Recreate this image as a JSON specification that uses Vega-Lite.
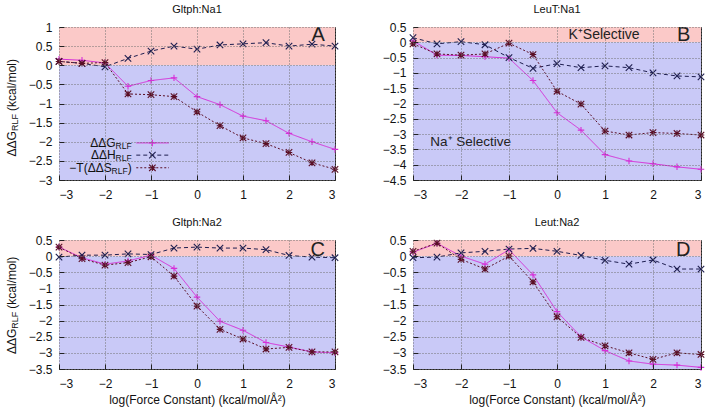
{
"$schema": "https://vega.github.io/schema/vega-lite/v6.json",
"padding": {"left": 5, "top": 3, "right": 5, "bottom": 3},
"spacing": 15,
"datasets": {
"d": [
{"p":"A","s":"G","x":-3,"y":0.16},{"p":"A","s":"G","x":-2.5,"y":0.13},{"p":"A","s":"G","x":-2,"y":0.06},{"p":"A","s":"G","x":-1.5,"y":-0.55},{"p":"A","s":"G","x":-1,"y":-0.4},{"p":"A","s":"G","x":-0.5,"y":-0.33},{"p":"A","s":"G","x":0,"y":-0.82},{"p":"A","s":"G","x":0.5,"y":-1.03},{"p":"A","s":"G","x":1,"y":-1.33},{"p":"A","s":"G","x":1.5,"y":-1.45},{"p":"A","s":"G","x":2,"y":-1.78},{"p":"A","s":"G","x":2.5,"y":-2.0},{"p":"A","s":"G","x":3,"y":-2.2},
{"p":"A","s":"H","x":-3,"y":0.1},{"p":"A","s":"H","x":-2.5,"y":0.05},{"p":"A","s":"H","x":-2,"y":-0.04},{"p":"A","s":"H","x":-1.5,"y":0.18},{"p":"A","s":"H","x":-1,"y":0.37},{"p":"A","s":"H","x":-0.5,"y":0.5},{"p":"A","s":"H","x":0,"y":0.42},{"p":"A","s":"H","x":0.5,"y":0.53},{"p":"A","s":"H","x":1,"y":0.56},{"p":"A","s":"H","x":1.5,"y":0.59},{"p":"A","s":"H","x":2,"y":0.5},{"p":"A","s":"H","x":2.5,"y":0.55},{"p":"A","s":"H","x":3,"y":0.5},
{"p":"A","s":"S","x":-3,"y":0.1},{"p":"A","s":"S","x":-2.5,"y":0.05},{"p":"A","s":"S","x":-2,"y":0.07},{"p":"A","s":"S","x":-1.5,"y":-0.75},{"p":"A","s":"S","x":-1,"y":-0.77},{"p":"A","s":"S","x":-0.5,"y":-0.82},{"p":"A","s":"S","x":0,"y":-1.22},{"p":"A","s":"S","x":0.5,"y":-1.58},{"p":"A","s":"S","x":1,"y":-1.9},{"p":"A","s":"S","x":1.5,"y":-2.05},{"p":"A","s":"S","x":2,"y":-2.28},{"p":"A","s":"S","x":2.5,"y":-2.55},{"p":"A","s":"S","x":3,"y":-2.72},
{"p":"B","s":"G","x":-3,"y":0.05},{"p":"B","s":"G","x":-2.5,"y":-0.42},{"p":"B","s":"G","x":-2,"y":-0.43},{"p":"B","s":"G","x":-1.5,"y":-0.47},{"p":"B","s":"G","x":-1,"y":-0.52},{"p":"B","s":"G","x":-0.5,"y":-1.25},{"p":"B","s":"G","x":0,"y":-2.3},{"p":"B","s":"G","x":0.5,"y":-2.87},{"p":"B","s":"G","x":1,"y":-3.67},{"p":"B","s":"G","x":1.5,"y":-3.88},{"p":"B","s":"G","x":2,"y":-3.97},{"p":"B","s":"G","x":2.5,"y":-4.07},{"p":"B","s":"G","x":3,"y":-4.15},
{"p":"B","s":"H","x":-3,"y":0.15},{"p":"B","s":"H","x":-2.5,"y":-0.05},{"p":"B","s":"H","x":-2,"y":0.02},{"p":"B","s":"H","x":-1.5,"y":-0.08},{"p":"B","s":"H","x":-1,"y":-0.5},{"p":"B","s":"H","x":-0.5,"y":-0.85},{"p":"B","s":"H","x":0,"y":-0.7},{"p":"B","s":"H","x":0.5,"y":-0.83},{"p":"B","s":"H","x":1,"y":-0.77},{"p":"B","s":"H","x":1.5,"y":-0.83},{"p":"B","s":"H","x":2,"y":-1.0},{"p":"B","s":"H","x":2.5,"y":-1.1},{"p":"B","s":"H","x":3,"y":-1.13},
{"p":"B","s":"S","x":-3,"y":-0.05},{"p":"B","s":"S","x":-2.5,"y":-0.38},{"p":"B","s":"S","x":-2,"y":-0.42},{"p":"B","s":"S","x":-1.5,"y":-0.38},{"p":"B","s":"S","x":-1,"y":-0.03},{"p":"B","s":"S","x":-0.5,"y":-0.4},{"p":"B","s":"S","x":0,"y":-1.6},{"p":"B","s":"S","x":0.5,"y":-2.02},{"p":"B","s":"S","x":1,"y":-2.9},{"p":"B","s":"S","x":1.5,"y":-3.03},{"p":"B","s":"S","x":2,"y":-2.95},{"p":"B","s":"S","x":2.5,"y":-2.98},{"p":"B","s":"S","x":3,"y":-3.03},
{"p":"C","s":"G","x":-3,"y":0.28},{"p":"C","s":"G","x":-2.5,"y":-0.05},{"p":"C","s":"G","x":-2,"y":-0.25},{"p":"C","s":"G","x":-1.5,"y":-0.15},{"p":"C","s":"G","x":-1,"y":0.03},{"p":"C","s":"G","x":-0.5,"y":-0.38},{"p":"C","s":"G","x":0,"y":-1.27},{"p":"C","s":"G","x":0.5,"y":-2.02},{"p":"C","s":"G","x":1,"y":-2.3},{"p":"C","s":"G","x":1.5,"y":-2.68},{"p":"C","s":"G","x":2,"y":-2.82},{"p":"C","s":"G","x":2.5,"y":-2.97},{"p":"C","s":"G","x":3,"y":-3.0},
{"p":"C","s":"H","x":-3,"y":-0.03},{"p":"C","s":"H","x":-2.5,"y":0.03},{"p":"C","s":"H","x":-2,"y":0.03},{"p":"C","s":"H","x":-1.5,"y":0.07},{"p":"C","s":"H","x":-1,"y":0.05},{"p":"C","s":"H","x":-0.5,"y":0.25},{"p":"C","s":"H","x":0,"y":0.28},{"p":"C","s":"H","x":0.5,"y":0.25},{"p":"C","s":"H","x":1,"y":0.25},{"p":"C","s":"H","x":1.5,"y":0.2},{"p":"C","s":"H","x":2,"y":0.02},{"p":"C","s":"H","x":2.5,"y":-0.03},{"p":"C","s":"H","x":3,"y":-0.05},
{"p":"C","s":"S","x":-3,"y":0.28},{"p":"C","s":"S","x":-2.5,"y":-0.08},{"p":"C","s":"S","x":-2,"y":-0.28},{"p":"C","s":"S","x":-1.5,"y":-0.2},{"p":"C","s":"S","x":-1,"y":-0.02},{"p":"C","s":"S","x":-0.5,"y":-0.62},{"p":"C","s":"S","x":0,"y":-1.55},{"p":"C","s":"S","x":0.5,"y":-2.27},{"p":"C","s":"S","x":1,"y":-2.57},{"p":"C","s":"S","x":1.5,"y":-2.88},{"p":"C","s":"S","x":2,"y":-2.83},{"p":"C","s":"S","x":2.5,"y":-2.97},{"p":"C","s":"S","x":3,"y":-2.97},
{"p":"D","s":"G","x":-3,"y":0.12},{"p":"D","s":"G","x":-2.5,"y":0.4},{"p":"D","s":"G","x":-2,"y":0.0},{"p":"D","s":"G","x":-1.5,"y":-0.25},{"p":"D","s":"G","x":-1,"y":0.2},{"p":"D","s":"G","x":-0.5,"y":-0.58},{"p":"D","s":"G","x":0,"y":-1.72},{"p":"D","s":"G","x":0.5,"y":-2.5},{"p":"D","s":"G","x":1,"y":-2.93},{"p":"D","s":"G","x":1.5,"y":-3.25},{"p":"D","s":"G","x":2,"y":-3.35},{"p":"D","s":"G","x":2.5,"y":-3.38},{"p":"D","s":"G","x":3,"y":-3.45},
{"p":"D","s":"H","x":-3,"y":-0.05},{"p":"D","s":"H","x":-2.5,"y":-0.03},{"p":"D","s":"H","x":-2,"y":0.1},{"p":"D","s":"H","x":-1.5,"y":0.15},{"p":"D","s":"H","x":-1,"y":0.22},{"p":"D","s":"H","x":-0.5,"y":0.24},{"p":"D","s":"H","x":0,"y":0.15},{"p":"D","s":"H","x":0.5,"y":0.02},{"p":"D","s":"H","x":1,"y":-0.13},{"p":"D","s":"H","x":1.5,"y":-0.25},{"p":"D","s":"H","x":2,"y":-0.12},{"p":"D","s":"H","x":2.5,"y":-0.4},{"p":"D","s":"H","x":3,"y":-0.4},
{"p":"D","s":"S","x":-3,"y":0.15},{"p":"D","s":"S","x":-2.5,"y":0.4},{"p":"D","s":"S","x":-2,"y":-0.1},{"p":"D","s":"S","x":-1.5,"y":-0.4},{"p":"D","s":"S","x":-1,"y":0.0},{"p":"D","s":"S","x":-0.5,"y":-0.8},{"p":"D","s":"S","x":0,"y":-1.88},{"p":"D","s":"S","x":0.5,"y":-2.52},{"p":"D","s":"S","x":1,"y":-2.78},{"p":"D","s":"S","x":1.5,"y":-3.0},{"p":"D","s":"S","x":2,"y":-3.2},{"p":"D","s":"S","x":2.5,"y":-3.0},{"p":"D","s":"S","x":3,"y":-3.05}
]
},
"vconcat": [
{"hconcat": [
{"title": "Gltph:Na1", "width": 276, "height": 153,
 "resolve": {"axis": {"x": "independent", "y": "independent"}},
 "layer": [
  {"data":{"values":[{}]},"mark":{"type":"rect","fill":"#fbc9c8"},
   "encoding":{"x":{"datum":-3,"type":"quantitative","scale":{"domain":[-3,3],"nice":false,"zero":false},"axis":{"values":[-3,-2,-1,0,1,2,3],"format":"d","title":null,"zindex":1}},"x2":{"datum":3},
   "y":{"datum":0,"type":"quantitative","scale":{"domain":[-3,1],"nice":false,"zero":false},"axis":{"values":[-3,-2.5,-2,-1.5,-1,-0.5,0,0.5,1],"format":"~g","title":null,"zindex":1}},"y2":{"datum":1}}},
  {"data":{"values":[{}]},"mark":{"type":"rect","fill":"#c9c9f7"},
   "encoding":{"x":{"datum":-3,"type":"quantitative","axis":null},"x2":{"datum":3},
   "y":{"datum":-3,"type":"quantitative","axis":null},"y2":{"datum":0}}},
  {"data":{"name":"d"},"transform":[{"filter":"datum.p=='A'"}],"mark":{"type":"line","strokeWidth":1},
   "encoding":{"x":{"field":"x","type":"quantitative","axis":null},
   "y":{"field":"y","type":"quantitative","axis":null},
   "stroke":{"field":"s","type":"nominal","scale":{"domain":["G","H","S"],"range":["#d62fd8","#1e1e50","#5a0f26"]},"legend":null},
   "strokeDash":{"field":"s","type":"nominal","scale":{"domain":["G","H","S"],"range":[[1,0],[4,3],[2,2]]},"legend":null}}},
  {"data":{"name":"d"},"transform":[{"filter":"datum.p=='A'"}],"mark":{"type":"point","filled":false,"size":42,"strokeWidth":1.1,"opacity":1},
   "encoding":{"x":{"field":"x","type":"quantitative","axis":null},
   "y":{"field":"y","type":"quantitative","axis":null},
   "stroke":{"field":"s","type":"nominal","scale":{"domain":["G","H","S"],"range":["#d62fd8","#1e1e50","#5a0f26"]},"legend":null},
   "shape":{"field":"s","type":"nominal","scale":{"domain":["G","H","S"],"range":["M-1,0L1,0M0,-1L0,1","M-1,-1L1,1M-1,1L1,-1","M-1,-1L1,1M-1,1L1,-1M-1,0L1,0M0,-1L0,1"]},"legend":null}}},
  {"data":{"values":[{}]},"mark":{"type":"text","text":"A","fontSize":20,"align":"right","baseline":"middle","color":"#222"},
   "encoding":{"x":{"datum":2.78,"type":"quantitative","axis":null},"y":{"datum":0.79,"type":"quantitative","axis":null}}},
  {"data":{"values":[{}]},"mark":{"type":"text","text":"ΔΔG","fontSize":12,"angle":270,"align":"right","baseline":"middle","color":"#111"},
   "encoding":{"x":{"datum":-4.02,"type":"quantitative","axis":null},"y":{"datum":-1.72,"type":"quantitative","axis":null}}},
  {"data":{"values":[{}]},"mark":{"type":"text","text":"RLF","fontSize":9,"angle":270,"align":"left","baseline":"middle","dy":3,"color":"#111"},
   "encoding":{"x":{"datum":-4.02,"type":"quantitative","axis":null},"y":{"datum":-1.72,"type":"quantitative","axis":null}}},
  {"data":{"values":[{}]},"mark":{"type":"text","text":"(kcal/mol)","fontSize":12,"angle":270,"align":"left","baseline":"middle","dx":20,"color":"#111"},
   "encoding":{"x":{"datum":-4.02,"type":"quantitative","axis":null},"y":{"datum":-1.72,"type":"quantitative","axis":null}}},
  {"data":{"values":[{}]},"mark":{"type":"rule","stroke":"#d62fd8","strokeWidth":1},
   "encoding":{"x":{"datum":-1.32,"type":"quantitative","axis":null},"x2":{"datum":-0.61},"y":{"datum":-2.03,"type":"quantitative","axis":null}}},
  {"data":{"values":[{}]},"mark":{"type":"rule","stroke":"#1e1e50","strokeWidth":1,"strokeDash":[4,3]},
   "encoding":{"x":{"datum":-1.32,"type":"quantitative","axis":null},"x2":{"datum":-0.61},"y":{"datum":-2.35,"type":"quantitative","axis":null}}},
  {"data":{"values":[{}]},"mark":{"type":"rule","stroke":"#5a0f26","strokeWidth":1,"strokeDash":[2,2]},
   "encoding":{"x":{"datum":-1.32,"type":"quantitative","axis":null},"x2":{"datum":-0.61},"y":{"datum":-2.68,"type":"quantitative","axis":null}}},
  {"data":{"values":[{}]},"mark":{"type":"point","shape":"M-1,0L1,0M0,-1L0,1","stroke":"#d62fd8","filled":false,"size":42,"strokeWidth":1.1,"opacity":1},
   "encoding":{"x":{"datum":-0.97,"type":"quantitative","axis":null},"y":{"datum":-2.03,"type":"quantitative","axis":null}}},
  {"data":{"values":[{}]},"mark":{"type":"point","shape":"M-1,-1L1,1M-1,1L1,-1","stroke":"#1e1e50","filled":false,"size":42,"strokeWidth":1.1,"opacity":1},
   "encoding":{"x":{"datum":-0.97,"type":"quantitative","axis":null},"y":{"datum":-2.35,"type":"quantitative","axis":null}}},
  {"data":{"values":[{}]},"mark":{"type":"point","shape":"M-1,-1L1,1M-1,1L1,-1M-1,0L1,0M0,-1L0,1","stroke":"#5a0f26","filled":false,"size":42,"strokeWidth":1.1,"opacity":1},
   "encoding":{"x":{"datum":-0.97,"type":"quantitative","axis":null},"y":{"datum":-2.68,"type":"quantitative","axis":null}}},
  {"data":{"values":[{}]},"mark":{"type":"text","text":"ΔΔG","fontSize":12,"align":"right","baseline":"middle","dx":-16,"color":"#111"},
   "encoding":{"x":{"datum":-1.42,"type":"quantitative","axis":null},"y":{"datum":-2.03,"type":"quantitative","axis":null}}},
  {"data":{"values":[{}]},"mark":{"type":"text","text":"RLF","fontSize":8.5,"align":"right","baseline":"middle","dy":3,"color":"#111"},
   "encoding":{"x":{"datum":-1.42,"type":"quantitative","axis":null},"y":{"datum":-2.03,"type":"quantitative","axis":null}}},
  {"data":{"values":[{}]},"mark":{"type":"text","text":"ΔΔH","fontSize":12,"align":"right","baseline":"middle","dx":-16,"color":"#111"},
   "encoding":{"x":{"datum":-1.42,"type":"quantitative","axis":null},"y":{"datum":-2.35,"type":"quantitative","axis":null}}},
  {"data":{"values":[{}]},"mark":{"type":"text","text":"RLF","fontSize":8.5,"align":"right","baseline":"middle","dy":3,"color":"#111"},
   "encoding":{"x":{"datum":-1.42,"type":"quantitative","axis":null},"y":{"datum":-2.35,"type":"quantitative","axis":null}}},
  {"data":{"values":[{}]},"mark":{"type":"text","text":"−T(ΔΔS","fontSize":12,"align":"right","baseline":"middle","dx":-20,"color":"#111"},
   "encoding":{"x":{"datum":-1.42,"type":"quantitative","axis":null},"y":{"datum":-2.68,"type":"quantitative","axis":null}}},
  {"data":{"values":[{}]},"mark":{"type":"text","text":"RLF","fontSize":8.5,"align":"right","baseline":"middle","dy":3,"dx":-4,"color":"#111"},
   "encoding":{"x":{"datum":-1.42,"type":"quantitative","axis":null},"y":{"datum":-2.68,"type":"quantitative","axis":null}}},
  {"data":{"values":[{}]},"mark":{"type":"text","text":")","fontSize":12,"align":"right","baseline":"middle","color":"#111"},
   "encoding":{"x":{"datum":-1.42,"type":"quantitative","axis":null},"y":{"datum":-2.68,"type":"quantitative","axis":null}}}
 ]},
{"title": "LeuT:Na1", "width": 288, "height": 153,
 "resolve": {"axis": {"x": "independent", "y": "independent"}},
 "layer": [
  {"data":{"values":[{}]},"mark":{"type":"rect","fill":"#fbc9c8"},
   "encoding":{"x":{"datum":-3,"type":"quantitative","scale":{"domain":[-3,3],"nice":false,"zero":false},"axis":{"values":[-3,-2,-1,0,1,2,3],"format":"d","title":null,"zindex":1}},"x2":{"datum":3},
   "y":{"datum":0,"type":"quantitative","scale":{"domain":[-4.5,0.5],"nice":false,"zero":false},"axis":{"values":[-4.5,-4,-3.5,-3,-2.5,-2,-1.5,-1,-0.5,0,0.5],"format":"~g","title":null,"zindex":1}},"y2":{"datum":0.5}}},
  {"data":{"values":[{}]},"mark":{"type":"rect","fill":"#c9c9f7"},
   "encoding":{"x":{"datum":-3,"type":"quantitative","axis":null},"x2":{"datum":3},
   "y":{"datum":-4.5,"type":"quantitative","axis":null},"y2":{"datum":0}}},
  {"data":{"name":"d"},"transform":[{"filter":"datum.p=='B'"}],"mark":{"type":"line","strokeWidth":1},
   "encoding":{"x":{"field":"x","type":"quantitative","axis":null},
   "y":{"field":"y","type":"quantitative","axis":null},
   "stroke":{"field":"s","type":"nominal","scale":{"domain":["G","H","S"],"range":["#d62fd8","#1e1e50","#5a0f26"]},"legend":null},
   "strokeDash":{"field":"s","type":"nominal","scale":{"domain":["G","H","S"],"range":[[1,0],[4,3],[2,2]]},"legend":null}}},
  {"data":{"name":"d"},"transform":[{"filter":"datum.p=='B'"}],"mark":{"type":"point","filled":false,"size":42,"strokeWidth":1.1,"opacity":1},
   "encoding":{"x":{"field":"x","type":"quantitative","axis":null},
   "y":{"field":"y","type":"quantitative","axis":null},
   "stroke":{"field":"s","type":"nominal","scale":{"domain":["G","H","S"],"range":["#d62fd8","#1e1e50","#5a0f26"]},"legend":null},
   "shape":{"field":"s","type":"nominal","scale":{"domain":["G","H","S"],"range":["M-1,0L1,0M0,-1L0,1","M-1,-1L1,1M-1,1L1,-1","M-1,-1L1,1M-1,1L1,-1M-1,0L1,0M0,-1L0,1"]},"legend":null}}},
  {"data":{"values":[{}]},"mark":{"type":"text","text":"B","fontSize":20,"align":"right","baseline":"middle","color":"#222"},
   "encoding":{"x":{"datum":2.78,"type":"quantitative","axis":null},"y":{"datum":0.23,"type":"quantitative","axis":null}}},
  {"data":{"values":[{}]},"mark":{"type":"text","text":"K⁺Selective","fontSize":14,"align":"center","baseline":"middle","color":"#222"},
   "encoding":{"x":{"datum":0.98,"type":"quantitative","axis":null},"y":{"datum":0.24,"type":"quantitative","axis":null}}},
  {"data":{"values":[{}]},"mark":{"type":"text","text":"Na⁺ Selective","fontSize":13.5,"align":"left","baseline":"middle","color":"#222"},
   "encoding":{"x":{"datum":-2.64,"type":"quantitative","axis":null},"y":{"datum":-3.27,"type":"quantitative","axis":null}}}
 ]}
], "spacing": 40},
{"hconcat": [
{"title": "Gltph:Na2", "width": 276, "height": 129,
 "resolve": {"axis": {"x": "independent", "y": "independent"}},
 "layer": [
  {"data":{"values":[{}]},"mark":{"type":"rect","fill":"#fbc9c8"},
   "encoding":{"x":{"datum":-3,"type":"quantitative","scale":{"domain":[-3,3],"nice":false,"zero":false},"axis":{"values":[-3,-2,-1,0,1,2,3],"format":"d","title":"log(Force Constant) (kcal/mol/Å²)","zindex":1}},"x2":{"datum":3},
   "y":{"datum":0,"type":"quantitative","scale":{"domain":[-3.5,0.5],"nice":false,"zero":false},"axis":{"values":[-3.5,-3,-2.5,-2,-1.5,-1,-0.5,0,0.5],"format":"~g","title":null,"zindex":1}},"y2":{"datum":0.5}}},
  {"data":{"values":[{}]},"mark":{"type":"rect","fill":"#c9c9f7"},
   "encoding":{"x":{"datum":-3,"type":"quantitative","axis":null},"x2":{"datum":3},
   "y":{"datum":-3.5,"type":"quantitative","axis":null},"y2":{"datum":0}}},
  {"data":{"name":"d"},"transform":[{"filter":"datum.p=='C'"}],"mark":{"type":"line","strokeWidth":1},
   "encoding":{"x":{"field":"x","type":"quantitative","axis":null},
   "y":{"field":"y","type":"quantitative","axis":null},
   "stroke":{"field":"s","type":"nominal","scale":{"domain":["G","H","S"],"range":["#d62fd8","#1e1e50","#5a0f26"]},"legend":null},
   "strokeDash":{"field":"s","type":"nominal","scale":{"domain":["G","H","S"],"range":[[1,0],[4,3],[2,2]]},"legend":null}}},
  {"data":{"name":"d"},"transform":[{"filter":"datum.p=='C'"}],"mark":{"type":"point","filled":false,"size":42,"strokeWidth":1.1,"opacity":1},
   "encoding":{"x":{"field":"x","type":"quantitative","axis":null},
   "y":{"field":"y","type":"quantitative","axis":null},
   "stroke":{"field":"s","type":"nominal","scale":{"domain":["G","H","S"],"range":["#d62fd8","#1e1e50","#5a0f26"]},"legend":null},
   "shape":{"field":"s","type":"nominal","scale":{"domain":["G","H","S"],"range":["M-1,0L1,0M0,-1L0,1","M-1,-1L1,1M-1,1L1,-1","M-1,-1L1,1M-1,1L1,-1M-1,0L1,0M0,-1L0,1"]},"legend":null}}},
  {"data":{"values":[{}]},"mark":{"type":"text","text":"C","fontSize":20,"align":"right","baseline":"middle","color":"#222"},
   "encoding":{"x":{"datum":2.78,"type":"quantitative","axis":null},"y":{"datum":0.19,"type":"quantitative","axis":null}}},
  {"data":{"values":[{}]},"mark":{"type":"text","text":"ΔΔG","fontSize":12,"angle":270,"align":"right","baseline":"middle","color":"#111"},
   "encoding":{"x":{"datum":-4.02,"type":"quantitative","axis":null},"y":{"datum":-2.25,"type":"quantitative","axis":null}}},
  {"data":{"values":[{}]},"mark":{"type":"text","text":"RLF","fontSize":9,"angle":270,"align":"left","baseline":"middle","dy":3,"color":"#111"},
   "encoding":{"x":{"datum":-4.02,"type":"quantitative","axis":null},"y":{"datum":-2.25,"type":"quantitative","axis":null}}},
  {"data":{"values":[{}]},"mark":{"type":"text","text":"(kcal/mol)","fontSize":12,"angle":270,"align":"left","baseline":"middle","dx":20,"color":"#111"},
   "encoding":{"x":{"datum":-4.02,"type":"quantitative","axis":null},"y":{"datum":-2.25,"type":"quantitative","axis":null}}}
 ]},
{"title": "Leut:Na2", "width": 288, "height": 129,
 "resolve": {"axis": {"x": "independent", "y": "independent"}},
 "layer": [
  {"data":{"values":[{}]},"mark":{"type":"rect","fill":"#fbc9c8"},
   "encoding":{"x":{"datum":-3,"type":"quantitative","scale":{"domain":[-3,3],"nice":false,"zero":false},"axis":{"values":[-3,-2,-1,0,1,2,3],"format":"d","title":"log(Force Constant) (kcal/mol/Å²)","zindex":1}},"x2":{"datum":3},
   "y":{"datum":0,"type":"quantitative","scale":{"domain":[-3.5,0.5],"nice":false,"zero":false},"axis":{"values":[-3.5,-3,-2.5,-2,-1.5,-1,-0.5,0,0.5],"format":"~g","title":null,"zindex":1}},"y2":{"datum":0.5}}},
  {"data":{"values":[{}]},"mark":{"type":"rect","fill":"#c9c9f7"},
   "encoding":{"x":{"datum":-3,"type":"quantitative","axis":null},"x2":{"datum":3},
   "y":{"datum":-3.5,"type":"quantitative","axis":null},"y2":{"datum":0}}},
  {"data":{"name":"d"},"transform":[{"filter":"datum.p=='D'"}],"mark":{"type":"line","strokeWidth":1},
   "encoding":{"x":{"field":"x","type":"quantitative","axis":null},
   "y":{"field":"y","type":"quantitative","axis":null},
   "stroke":{"field":"s","type":"nominal","scale":{"domain":["G","H","S"],"range":["#d62fd8","#1e1e50","#5a0f26"]},"legend":null},
   "strokeDash":{"field":"s","type":"nominal","scale":{"domain":["G","H","S"],"range":[[1,0],[4,3],[2,2]]},"legend":null}}},
  {"data":{"name":"d"},"transform":[{"filter":"datum.p=='D'"}],"mark":{"type":"point","filled":false,"size":42,"strokeWidth":1.1,"opacity":1},
   "encoding":{"x":{"field":"x","type":"quantitative","axis":null},
   "y":{"field":"y","type":"quantitative","axis":null},
   "stroke":{"field":"s","type":"nominal","scale":{"domain":["G","H","S"],"range":["#d62fd8","#1e1e50","#5a0f26"]},"legend":null},
   "shape":{"field":"s","type":"nominal","scale":{"domain":["G","H","S"],"range":["M-1,0L1,0M0,-1L0,1","M-1,-1L1,1M-1,1L1,-1","M-1,-1L1,1M-1,1L1,-1M-1,0L1,0M0,-1L0,1"]},"legend":null}}},
  {"data":{"values":[{}]},"mark":{"type":"text","text":"D","fontSize":20,"align":"right","baseline":"middle","color":"#222"},
   "encoding":{"x":{"datum":2.78,"type":"quantitative","axis":null},"y":{"datum":0.19,"type":"quantitative","axis":null}}}
 ]}
], "spacing": 40}
],
"config": {
 "font": "Liberation Sans",
 "background": "white",
 "view": {"stroke": "#222", "strokeWidth": 1},
 "axis": {"grid": true, "gridColor": "#707070", "gridDash": [1,2], "gridWidth": 1, "gridOpacity": 1, "domain": false, "tickSize": -5, "tickColor": "#222", "labelPadding": 12, "labelFontSize": 12, "labelColor": "#111", "labelOverlap": false, "titleFontSize": 12, "titleFontWeight": "normal", "titleColor": "#111", "titlePadding": 5},
 "axisX": {"labelPadding": 14},
 "title": {"fontSize": 11, "fontWeight": "normal", "offset": 6, "anchor": "middle", "color": "#111"},
 "text": {"font": "Liberation Sans"}
}
}
